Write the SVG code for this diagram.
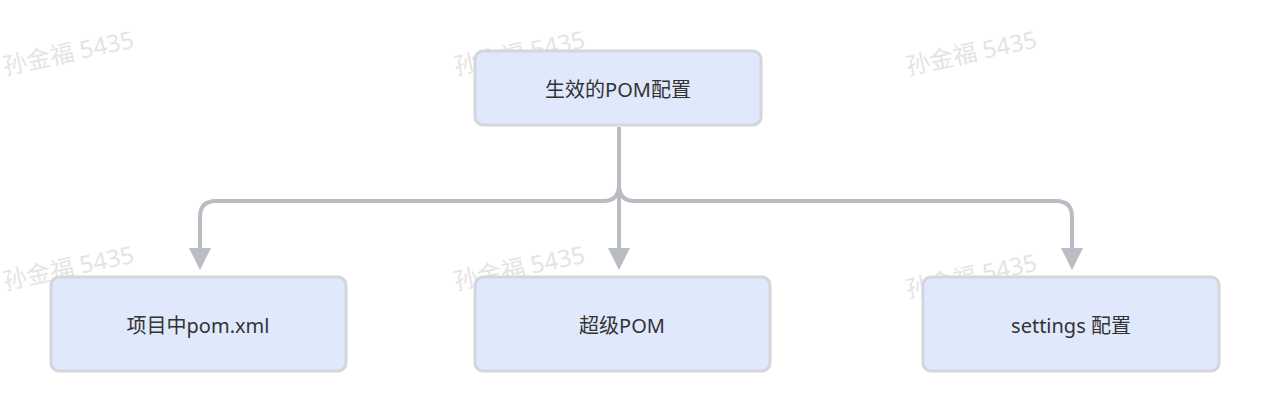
<svg xmlns="http://www.w3.org/2000/svg" width="1268" height="420" viewBox="0 0 1268 420">
<style>
.n{fill:#e0e8fb;stroke:#d3d6dd;stroke-width:3}
.t{font-family:"Noto Sans","Noto Sans CJK SC",sans-serif;font-size:20px;fill:#333;text-anchor:middle;dominant-baseline:central}
.c{fill:none;stroke:#b9bcc3;stroke-width:4}
.a{fill:#b9bcc3}
.w{font-family:"Noto Sans","Noto Sans CJK SC",sans-serif;font-size:24px;fill:#e4e4e4}
</style>
<rect width="1268" height="420" fill="#fff"/>
<g id="watermarks">
<text class="w" transform="translate(5,75) rotate(-12)">孙金福 5435</text>
<text class="w" transform="translate(456,75) rotate(-12)">孙金福 5435</text>
<text class="w" transform="translate(908,75) rotate(-12)">孙金福 5435</text>
<text class="w" transform="translate(5,290) rotate(-12)">孙金福 5435</text>
<text class="w" transform="translate(456,290) rotate(-12)">孙金福 5435</text>
<text class="w" transform="translate(908,298) rotate(-12)">孙金福 5435</text>
</g>
<g id="connectors">
<path class="c" d="M619,127 V185 Q619,201 603,201 H216 Q200,201 200,217 V252"/>
<path class="c" d="M619,185 Q619,201 635,201 H1056 Q1072,201 1072,217 V252"/>
<path class="c" d="M619,127 V252"/>
<polygon class="a" points="189,248 211,248 200,270"/>
<polygon class="a" points="608,248 630,248 619,270"/>
<polygon class="a" points="1061,248 1083,248 1072,270"/>
</g>
<g id="top"><rect class="n" x="475" y="51" width="286" height="74" rx="8"/><text class="t" x="618" y="89">生效的POM配置</text></g>
<g id="left"><rect class="n" x="51" y="277" width="295" height="94" rx="8"/><text class="t" x="198" y="325">项目中pom.xml</text></g>
<g id="mid"><rect class="n" x="475" y="277" width="295" height="94" rx="8"/><text class="t" x="622" y="325">超级POM</text></g>
<g id="right"><rect class="n" x="923" y="277" width="296" height="94" rx="8"/><text class="t" x="1071" y="325">settings 配置</text></g>
</svg>
